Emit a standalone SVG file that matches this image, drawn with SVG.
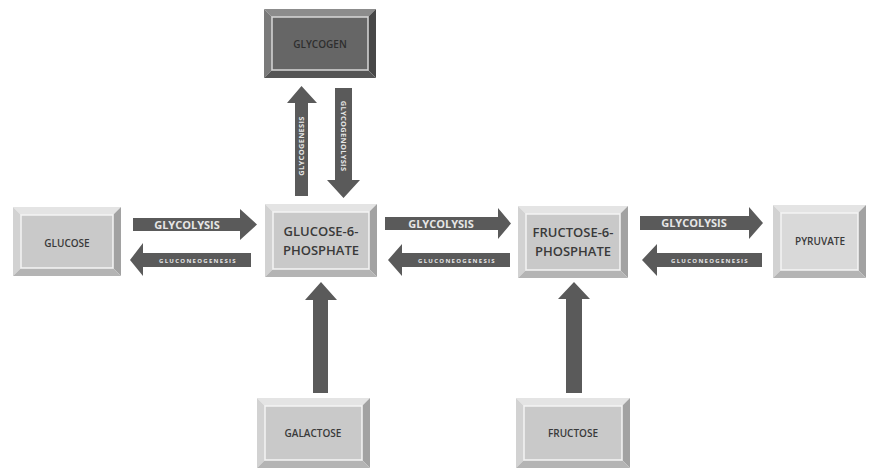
<svg xmlns="http://www.w3.org/2000/svg" width="871" height="470" viewBox="0 0 871 470">
<style>
.t{fill:#e4e4e4}.l{fill:#d2d2d2}.r{fill:#a2a2a2}.b{fill:#b4b4b4}
.f{fill:#c9c9c9;stroke:#f4f4f4;stroke-width:1.5}
.dt{fill:#8c8c8c}.dl{fill:#7a7a7a}.dr{fill:#474747}.db{fill:#555}
.df{fill:#666;stroke:#d8d8d8;stroke-width:1.5}
.pf{fill:#d9d9d9;stroke:#f4f4f4;stroke-width:1.5}
.nt{font-family:"Open Sans","Liberation Sans",sans-serif;font-weight:600;font-size:13px;fill:#3a3a3a;text-anchor:middle}
.ar{fill:#5a5a5a}
.al{font-family:"Open Sans","Liberation Sans",sans-serif;font-weight:700;font-size:11px;fill:#e6e6e6;text-anchor:middle}
.as{font-family:"Open Sans","Liberation Sans",sans-serif;font-weight:700;font-size:6px;letter-spacing:1.3px;fill:#e6e6e6;text-anchor:middle}
</style>
<rect width="871" height="470" fill="#fff"/>
<g id="connectors">
<path class="ar" d="M133,218 H240 V209 L257,224.5 L240,240 V231 H133 Z"/>
<text class="al" x="187" y="228.5">GLYCOLYSIS</text>
<path class="ar" d="M251,253 H143 V243 L130,260 L143,276 V267 H251 Z"/>
<text class="as" x="198" y="262.5">GLUCONEOGENESIS</text>
<path class="ar" d="M385,217 H498 V208 L511,223.5 L498,239 V230 H385 Z"/>
<text class="al" x="441" y="227.5">GLYCOLYSIS</text>
<path class="ar" d="M510,253 H402 V244 L388,260 L402,276 V267 H510 Z"/>
<text class="as" x="457" y="262.5">GLUCONEOGENESIS</text>
<path class="ar" d="M640,216 H749 V207 L763,223 L749,239 V230 H640 Z"/>
<text class="al" x="694" y="227">GLYCOLYSIS</text>
<path class="ar" d="M762,253 H657 V244 L642,260 L657,276 V267 H762 Z"/>
<text class="as" x="710" y="262.5">GLUCONEOGENESIS</text>
<path class="ar" d="M295,196 V103 H287 L301.5,86 L317,103 H308 V196 Z"/>
<text class="as" style="font-size:7.5px;letter-spacing:0.3px" transform="translate(304,146) rotate(-90)">GLYCOGENESIS</text>
<path class="ar" d="M335,88 H352 V180 H360 L343.5,198 L327,180 H335 Z"/>
<text class="as" style="font-size:7.5px;letter-spacing:0.3px" transform="translate(341,136) rotate(90)">GLYCOGENOLYSIS</text>
<path class="ar" d="M313,393 V300 H305 L321,282 L337,300 H328 V393 Z"/>
<path class="ar" d="M566,393 V299 H558 L574,282 L590,299 H582 V393 Z"/>
</g>
<g id="glycogen">
<polygon class="dt" points="264,9 376,9 368,17 272,17"/>
<polygon class="dl" points="264,9 272,17 272,70 264,78"/>
<polygon class="dr" points="376,9 376,78 368,70 368,17"/>
<polygon class="db" points="264,78 272,70 368,70 376,78"/>
<rect class="df" x="272" y="17" width="96" height="53"/>
<text class="nt" x="320" y="48" style="font-size:10px;fill:#2e2e2e">GLYCOGEN</text>
</g>
<g id="glucose">
<polygon class="t" points="13,207 121,207 113,215 21,215"/>
<polygon class="l" points="13,207 21,215 21,268 13,276"/>
<polygon class="r" points="121,207 121,276 113,268 113,215"/>
<polygon class="b" points="13,276 21,268 113,268 121,276"/>
<rect class="f" x="21" y="215" width="92" height="53"/>
<text class="nt" x="67" y="247" style="font-size:10px">GLUCOSE</text>
</g>
<g id="g6p">
<polygon class="t" points="265,204 377,204 369,212 273,212"/>
<polygon class="l" points="265,204 273,212 273,269 265,277"/>
<polygon class="r" points="377,204 377,277 369,269 369,212"/>
<polygon class="b" points="265,277 273,269 369,269 377,277"/>
<rect class="f" x="273" y="212" width="96" height="57"/>
<text class="nt" x="321" y="236">GLUCOSE-6-</text>
<text class="nt" x="321" y="255">PHOSPHATE</text>
</g>
<g id="f6p">
<polygon class="t" points="518,206 628,206 620,214 526,214"/>
<polygon class="l" points="518,206 526,214 526,270 518,278"/>
<polygon class="r" points="628,206 628,278 620,270 620,214"/>
<polygon class="b" points="518,278 526,270 620,270 628,278"/>
<rect class="f" x="526" y="214" width="94" height="56"/>
<text class="nt" x="573" y="237">FRUCTOSE-6-</text>
<text class="nt" x="573" y="256">PHOSPHATE</text>
</g>
<g id="pyruvate">
<polygon class="t" points="773,205 866,205 858,213 781,213"/>
<polygon class="l" points="773,205 781,213 781,270 773,278"/>
<polygon class="r" points="866,205 866,278 858,270 858,213"/>
<polygon class="b" points="773,278 781,270 858,270 866,278"/>
<rect class="pf" x="781" y="213" width="77" height="57"/>
<text class="nt" x="820" y="245" style="font-size:10px">PYRUVATE</text>
</g>
<g id="galactose">
<polygon class="t" points="257,398 370,398 362,406 265,406"/>
<polygon class="l" points="257,398 265,406 265,460 257,468"/>
<polygon class="r" points="370,398 370,468 362,460 362,406"/>
<polygon class="b" points="257,468 265,460 362,460 370,468"/>
<rect class="f" x="265" y="406" width="97" height="54"/>
<text class="nt" x="313" y="437" style="font-size:10px">GALACTOSE</text>
</g>
<g id="fructose">
<polygon class="t" points="516,398 630,398 622,406 524,406"/>
<polygon class="l" points="516,398 524,406 524,460 516,468"/>
<polygon class="r" points="630,398 630,468 622,460 622,406"/>
<polygon class="b" points="516,468 524,460 622,460 630,468"/>
<rect class="f" x="524" y="406" width="98" height="54"/>
<text class="nt" x="573" y="437" style="font-size:10px">FRUCTOSE</text>
</g>
</svg>
